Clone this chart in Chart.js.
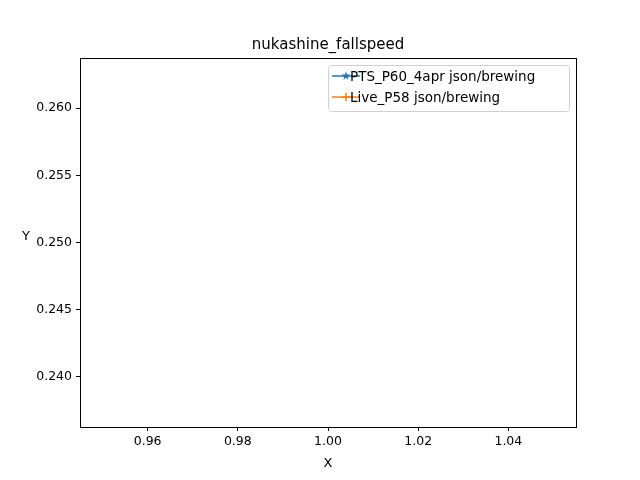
<!DOCTYPE html>
<html>
<head>
<meta charset="utf-8">
<script src="https://cdn.jsdelivr.net/npm/chart.js@4"></script>
<style>body{margin:0;background:#fff}</style>
</head>
<body>
<canvas id="c" width="640" height="480"></canvas>
<script>
'use strict'

const seriesNames = ["PTS_P60_4apr json/brewing", "Live_P58 json/brewing"];
const seriesColors = ["#1f77b4", "#ff7f0e"];
const seriesMarkers = ["star", "cross"];
const xTicks = [0.96, 0.98, 1.00, 1.02, 1.04];
const yTicks = [0.240, 0.245, 0.250, 0.255, 0.260];
const ptsValues = [];
const liveValues = [];

const font = "'DejaVu Sans', sans-serif";

function filledStar(ctx, cx, cy, r, color) {
    ctx.beginPath();
    for (let i = 0; i < 10; i++) {
        const rr = i % 2 ? r * 0.4 : r;
        const a = -Math.PI / 2 + i * Math.PI / 5;
        ctx.lineTo(cx + rr * Math.cos(a), cy + rr * Math.sin(a));
    }
    ctx.closePath();
    ctx.fillStyle = color;
    ctx.fill();
}

const frame = {
    id: 'frame',
    afterDraw(chart) {
        const ctx = chart.ctx, a = chart.chartArea;
        ctx.save();
        ctx.strokeStyle = '#000';
        ctx.lineWidth = 1;
        ctx.strokeRect(a.left + 0.5, a.top + 0.5, a.right - a.left, a.bottom - a.top);
        ctx.fillStyle = '#000';
        ctx.font = '15px ' + font;
        ctx.textAlign = 'center';
        ctx.textBaseline = 'alphabetic';
        ctx.fillText('nukashine_fallspeed', (a.left + a.right) / 2, 49);
        ctx.font = '13px ' + font;
        ctx.fillText('X', (a.left + a.right) / 2, 467);
        ctx.fillText('Y', 26, 240);
        // legend
        const bx = 328, by = 65, bw = 241, bh = 46;
        ctx.strokeStyle = '#d0d0d0';
        ctx.fillStyle = 'rgba(255,255,255,0.8)';
        ctx.beginPath();
        ctx.roundRect(bx + 0.5, by + 0.5, bw, bh, 3);
        ctx.fill(); ctx.stroke();
        ctx.textAlign = 'left';
        ctx.textBaseline = 'middle';
        ctx.font = '13.5px ' + font;
        seriesNames.forEach((name, i) => {
            const y = by + 11 + i * 21;
            ctx.strokeStyle = seriesColors[i];
            ctx.lineWidth = 1.5;
            ctx.beginPath(); ctx.moveTo(bx + 4, y); ctx.lineTo(bx + 32, y); ctx.stroke();
            if (seriesMarkers[i] === 'star') filledStar(ctx, bx + 18, y, 4.5, seriesColors[i]);
            else Chart.helpers.drawPoint(ctx, {pointStyle: 'cross', radius: 4, borderWidth: 1.5}, bx + 18, y);
            ctx.fillStyle = '#000';
            ctx.fillText(name, bx + 22 + 0, y + 1);
        });
        ctx.restore();
    }
};

function fixTicks(vals) {
    return scale => { scale.ticks = vals.map(v => ({value: v})); };
}

new Chart(document.getElementById('c').getContext('2d'), {
    type: 'line',
    data: {
        datasets: [
            {label: seriesNames[0], data: ptsValues, borderColor: seriesColors[0], pointStyle: seriesMarkers[0]},
            {label: seriesNames[1], data: liveValues, borderColor: seriesColors[1], pointStyle: seriesMarkers[1]}
        ]
    },
    options: {
        responsive: false,
        animation: false,
        layout: {padding: {top: 58, right: 64, left: 0, bottom: 0}},
        plugins: {legend: {display: false}, title: {display: false}, tooltip: {enabled: false}},
        scales: {
            x: {
                type: 'linear', min: 0.945, max: 1.055,
                afterBuildTicks: fixTicks(xTicks),
                afterFit: s => { s.height = 53; },
                grid: {drawOnChartArea: false, tickLength: 4, color: '#000'},
                border: {display: false},
                ticks: {color: '#000', font: {family: font, size: 12.5}, padding: 3,
                    callback: v => v.toFixed(2), maxRotation: 0}
            },
            y: {
                type: 'linear', min: 0.23628, max: 0.26372,
                afterBuildTicks: fixTicks(yTicks),
                afterFit: s => { s.width = 80; },
                grid: {drawOnChartArea: false, tickLength: 4, color: '#000'},
                border: {display: false},
                ticks: {color: '#000', font: {family: font, size: 12.5}, padding: 4,
                    callback: v => v.toFixed(3)}
            }
        }
    },
    plugins: [frame]
});
</script>
</body>
</html>
